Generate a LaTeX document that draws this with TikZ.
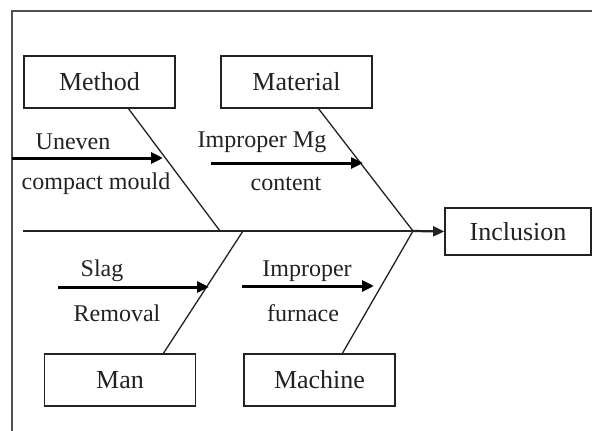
\documentclass[tikz,border=0pt]{standalone}
\usepackage{fontspec}
\setmainfont{Liberation Serif}
\usetikzlibrary{arrows.meta}
\definecolor{ink}{HTML}{222222}
\definecolor{frame}{HTML}{505050}
\tikzset{
  cat/.style={draw=ink, line width=1.7pt, minimum width=151pt, minimum height=52pt, inner sep=0pt,
    font=\fontsize{26}{30}\selectfont, text=ink},
  lbl/.style={font=\fontsize{24}{28}\selectfont, text=ink, inner sep=0pt},
  bone/.style={draw=ink, line width=1.3pt},
  cause/.style={draw=black, line width=3pt, -{Triangle[length=12pt,width=11pt]}},
}
\begin{document}
\begin{tikzpicture}[x=1pt,y=-1pt]
\useasboundingbox (0,0) rectangle (592,431);
\fill[white] (0,0) rectangle (592,431);
% frame
\draw[frame, line width=2.2pt] (12,431) -- (12,11) -- (592,11);
% category boxes
\node[cat] (method) at (99.5,82) {Method};
\node[cat] (material) at (296.5,82) {Material};
\node[cat] (man) at (120,380) {Man};
\node[cat] (machine) at (319.5,380) {Machine};
\node[cat, minimum width=146pt, minimum height=47pt] (effect) at (518,231.5) {Inclusion};
% spine
\coordinate (tail) at (23,231);
\coordinate (head) at (413,231);
\coordinate (jm) at (220,231);
\coordinate (jn) at (243,231);
\draw[draw=ink, line width=2.2pt] (tail) -- (head);
\draw[draw=ink, line width=2.2pt, -{Triangle[length=11pt,width=10pt]}] (head) -- (effect.west);
% bones
\coordinate (methodb) at (128,108);
\coordinate (materialb) at (318,108);
\coordinate (manb) at (163,354);
\coordinate (machineb) at (342,354);
\draw[bone] (methodb) -- (jm);
\draw[bone] (materialb) -- (head);
\draw[bone] (manb) -- (jn);
\draw[bone] (machineb) -- (head);
% cause arrows
\coordinate (c1s) at (12,158); \coordinate (c1e) at (163,158);
\coordinate (c2s) at (211,163); \coordinate (c2e) at (363,163);
\coordinate (c3s) at (58,287); \coordinate (c3e) at (209,287);
\coordinate (c4s) at (242,286); \coordinate (c4e) at (374,286);
\draw[cause] (c1s) -- (c1e);
\draw[cause] (c2s) -- (c2e);
\draw[cause] (c3s) -- (c3e);
\draw[cause] (c4s) -- (c4e);
% cause labels
\node[lbl] (t1a) at (73,142) {Uneven};
\node[lbl] (t1b) at (96,184) {compact mould};
\node[lbl] (t2a) at (262,142) {Improper Mg};
\node[lbl] (t2b) at (286,184) {content};
\node[lbl] (t3a) at (102,271) {Slag};
\node[lbl] (t3b) at (117,313) {Removal};
\node[lbl] (t4a) at (307,271) {Improper};
\node[lbl] (t4b) at (303,313) {furnace};
\end{tikzpicture}
\end{document}
